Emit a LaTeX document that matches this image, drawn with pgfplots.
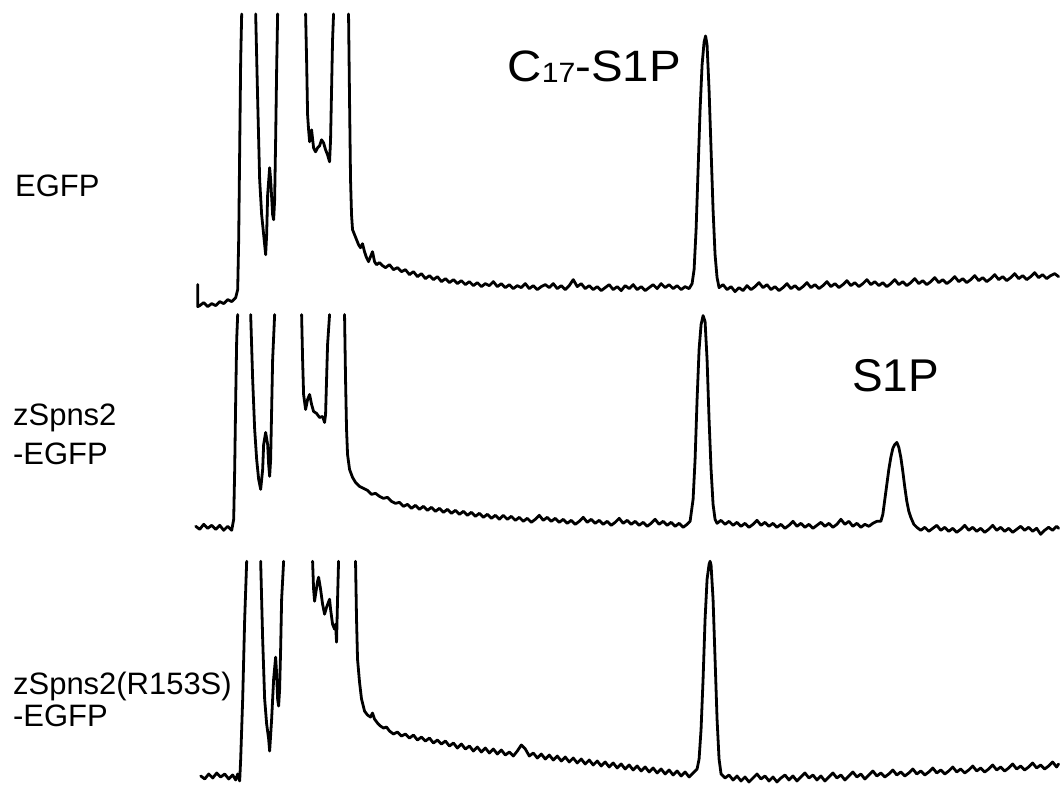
\documentclass[border=0pt]{standalone}
\usepackage{fontspec}
\setmainfont{Liberation Sans}
\usepackage{pgfplots}
\pgfplotsset{compat=1.18}
\newcommand{\lbl}{\fontsize{31}{31}\selectfont}
\pgfplotsset{trace/.style={black, line width=2.8pt, line join=round, line cap=round, mark=none}}

\begin{document}
\begin{tikzpicture}
\begin{axis}[
  width=1060pt, height=792pt, scale only axis, hide axis,
  xmin=0, xmax=1060, ymin=0, ymax=792, y dir=reverse, clip=false,
]
% bounding box
\addplot[draw=none] coordinates {(0,0) (1060,792)};

% ---- EGFP ----
\addplot[trace] coordinates {(198,285) (198,307) (200,306) (204,303) (208,307) (212,304) (216,306) (220,302) (224,304) (228,300) (232,302) (236,298) (238,290) (239,240) (240,150) (241,60) (242,14)};
\addplot[trace] coordinates {(256,14) (258,100) (260,180) (262,215) (264,235) (266,255) (267,235) (268,195) (270,168) (271,180) (273,215) (274,220) (275,200) (276,140) (277,70) (278,14)};
\addplot[trace] coordinates {(306,14) (307,60) (308,115) (309,130) (310,142) (311,135) (312,130) (314,148) (316,152) (318,148) (320,146) (322,140) (324,143) (326,150) (328,155) (330,162) (331,140) (332,90) (333,40) (334,14)};
\addplot[trace] coordinates {(349,14) (350,100) (351,180) (352,215) (353,230) (355,235) (357,240) (359,245) (361,248) (363,244) (365,252) (367,258) (369,262) (371,257) (373,252) (375,262) (377,265) (380,263) (383,266)
 (386,268) (390,265) (394,270) (398,268) (402,272) (406,270) (410,275) (414,272) (418,277) (422,274) (426,279) (430,276) (434,280) (438,277) (442,282) (446,279) (450,283) (454,280) (458,284) (462,281) (466,285) (470,282) (474,286) (478,283) (482,287) (486,284) (490,286) (494,282) (498,287) (502,284) (506,288) (510,285) (514,289) (518,286) (522,288) (526,284) (530,289) (534,286) (538,290) (542,287) (546,285) (550,288) (554,284) (558,289) (562,286) (566,290) (570,286) (574,280) (578,287) (582,284) (586,289) (590,286) (594,290) (598,287) (602,291) (606,288) (610,285) (614,290) (618,287) (622,291) (626,286) (630,289) (634,285) (638,290) (642,287) (646,291) (650,288) (654,285) (658,289) (662,284) (666,288) (670,285) (674,289) (678,286) (682,290) (686,287) (690,289) (693,284)
 (695,270) (697,230) (699,170) (701,110) (703,65) (705,42) (706.5,36) (708,45) (710,90) (712,150) (714,210) (716,255) (718,278) (720,288)
 (724,285) (728,290) (732,287) (736,292) (740,288) (744,291) (748,286) (752,290) (756,287) (760,283) (764,288) (768,285) (772,290) (776,287) (780,291) (784,288) (788,284) (792,289) (796,286) (800,290) (804,287) (808,283) (812,288) (816,285) (820,289) (824,286) (828,282) (832,287) (836,284) (840,288) (844,285) (848,281) (852,286) (856,283) (860,287) (864,284) (868,280) (872,285) (876,282) (880,286) (884,283) (888,287) (892,284) (896,280) (900,285) (904,282) (908,286) (912,283) (916,279) (920,284) (924,281) (928,285) (932,282) (936,278) (940,283) (944,280) (948,284) (952,281) (956,277) (960,282) (964,279) (968,283) (972,280) (976,276) (980,281) (984,278) (988,282) (992,279) (996,275) (1000,280) (1004,277) (1008,281) (1012,278) (1016,274) (1020,279) (1024,276) (1028,280) (1032,277) (1036,273) (1040,278) (1044,275) (1048,279) (1052,276) (1056,274) (1060,277)};

% ---- zSpns2-EGFP ----
\addplot[trace] coordinates {(196,527) (200,530) (204,525) (208,529) (212,526) (216,530) (220,526) (224,531) (228,527) (232,531) (234,520) (235,470) (236,400) (237,340) (238,315)};
\addplot[trace] coordinates {(251,315) (253,380) (255,430) (257,460) (259,480) (261,490) (263,470) (264,445) (266,433) (268,445) (269,465) (270,477) (271,460) (272,410) (273,360) (275,315)};
\addplot[trace] coordinates {(302,315) (303,360) (304,395) (306,410) (308,400) (310,395) (312,405) (314,412) (317,414) (320,418) (323,417) (325,423) (326,415) (327,380) (328,345) (330,315)};
\addplot[trace] coordinates {(345,315) (346,380) (347,430) (348,455) (350,470) (353,478) (356,483) (360,487) (364,489) (368,491) (372,495) (376,494) (380,497) (384,499) (388,498) (392,502) (396,504)
 (400,503) (404,507) (408,505) (412,509) (416,506) (420,510) (424,507) (428,511) (432,508) (436,512) (440,509) (444,513) (448,510) (452,514) (456,511) (460,515) (464,512) (468,516) (472,513) (476,517) (480,514) (484,518) (488,515) (492,519) (496,516) (500,520) (504,516) (508,520) (512,517) (516,521) (520,518) (524,522) (528,519) (532,523) (536,520) (540,516) (544,521) (548,518) (552,522) (556,519) (560,523) (564,520) (568,524) (572,521) (576,525) (580,522) (584,518) (588,523) (592,520) (596,524) (600,521) (604,525) (608,522) (612,526) (616,523) (620,519) (624,524) (628,521) (632,525) (636,522) (640,526) (644,523) (648,527) (652,524) (656,520) (660,525) (664,522) (668,526) (672,523) (676,527) (680,524) (684,528) (688,525) (691,522)
 (694,500) (696,460) (698,400) (700,350) (702,325) (704,316) (706,322) (708,360) (710,420) (712,470) (714,505) (716,520) (718,524)
 (722,521) (726,525) (730,522) (734,526) (738,523) (742,527) (746,524) (750,528) (754,525) (758,521) (762,526) (766,523) (770,527) (774,524) (778,528) (782,525) (786,529) (790,526) (794,522) (798,527) (802,524) (806,528) (810,525) (814,529) (818,526) (822,523) (826,527) (830,524) (834,528) (838,525) (842,520) (846,525) (850,522) (854,527) (858,524) (862,528) (866,525) (870,527) (874,524) (878,522) (882,522)
 (884,515) (886,500) (888,485) (890,470) (892,458) (894,449) (896,445) (898,443) (900,448) (902,458) (904,472) (906,488) (908,502) (910,512) (912,518) (915,525)
 (918,528) (922,531) (926,528) (930,532) (934,529) (938,526) (942,531) (946,528) (950,532) (954,529) (958,533) (962,530) (966,526) (970,531) (974,528) (978,532) (982,529) (986,533) (990,530) (994,526) (998,531) (1002,528) (1006,532) (1010,529) (1014,533) (1018,530) (1022,527) (1026,531) (1030,528) (1034,532) (1038,529) (1042,535) (1046,531) (1050,528) (1054,531) (1058,527) (1060,529)};

% ---- zSpns2(R153S)-EGFP ----
\addplot[trace] coordinates {(201,777) (205,780) (209,775) (213,779) (217,774) (221,778) (225,775) (229,780) (233,776) (236,781) (238,775) (240,782) (241,760) (243,700) (245,620) (247,562)};
\addplot[trace] coordinates {(261,562) (263,640) (265,700) (267,725) (269,740) (270,752) (272,720) (274,680) (276,658) (277,675) (278,700) (279,707) (280,690) (281,650) (282,600) (284,562)};
\addplot[trace] coordinates {(313,562) (314,590) (315,602) (316,595) (318,582) (319,578) (321,590) (323,605) (325,615) (327,608) (330,600) (331,610) (333,625) (335,630) (336,625) (337,643) (338,600) (339,562)};
\addplot[trace] coordinates {(356,562) (357,620) (358,660) (360,683) (362,700) (365,712) (368,716) (371,718) (373,714) (375,720) (378,724) (381,727) (384,729) (387,728) (390,732) (394,735) (398,733) (402,737)
 (406,735) (410,739) (414,736) (418,741) (422,738) (426,742) (430,739) (434,744) (438,741) (442,745) (446,742) (450,747) (454,744) (458,749) (462,745) (466,750) (470,747) (474,752) (478,748) (482,753) (486,749) (490,754) (494,750) (498,755) (502,751) (506,756) (510,753) (514,757) (518,752) (522,746) (526,750) (530,757) (534,754) (538,759) (542,755) (546,760) (550,756) (554,761) (558,757) (562,762) (566,758) (570,763) (574,759) (578,764) (582,760) (586,765) (590,761) (594,766) (598,762) (602,767) (606,763) (610,768) (614,764) (618,769) (622,765) (626,770) (630,766) (634,771) (638,767) (642,772) (646,768) (650,773) (654,769) (658,774) (662,770) (666,775) (670,771) (674,776) (678,772) (682,777) (686,773) (690,778) (694,774) (698,770)
 (700,760) (702,730) (704,680) (706,620) (708,580) (710,565) (711,562) (712,566) (714,600) (716,660) (718,720) (720,760) (722,775)
 (726,779) (730,776) (734,781) (738,777) (742,782) (746,778) (750,783) (754,779) (758,775) (762,780) (766,777) (770,782) (774,778) (778,783) (782,779) (786,776) (790,781) (794,777) (798,782) (802,778) (806,774) (810,779) (814,776) (818,781) (822,777) (826,782) (830,778) (834,774) (838,779) (842,776) (846,781) (850,777) (854,773) (858,778) (862,775) (866,780) (870,776) (874,772) (878,777) (882,774) (886,778) (890,775) (894,771) (898,776) (902,773) (906,777) (910,774) (914,770) (918,775) (922,772) (926,776) (930,773) (934,769) (938,774) (942,771) (946,775) (950,772) (954,768) (958,773) (962,770) (966,774) (970,771) (974,767) (978,772) (982,769) (986,773) (990,770) (994,766) (998,771) (1002,768) (1006,772) (1010,769) (1014,765) (1018,770) (1022,767) (1026,771) (1030,768) (1034,764) (1038,769) (1042,766) (1046,770) (1050,767) (1054,763) (1058,768) (1060,765)};

% ---- labels ----
\node[anchor=base west, font=\lbl, inner sep=0pt] at (axis cs:15,197) {EGFP};
\node[anchor=base west, font=\lbl, inner sep=0pt] at (axis cs:13,426) {zSpns2};
\node[anchor=base west, font=\lbl, inner sep=0pt] at (axis cs:13,465) {-EGFP};
\node[anchor=base west, font=\lbl, inner sep=0pt] at (axis cs:13,695) {zSpns2(R153S)};
\node[anchor=base west, font=\lbl, inner sep=0pt] at (axis cs:13,727) {-EGFP};
\node[anchor=base west, inner sep=0pt, xscale=1.08, font=\fontsize{44}{44}\selectfont] at (axis cs:508,82) {C{\fontsize{28}{28}\selectfont\raisebox{-1pt}{17}}-S1P};
\node[anchor=base west, inner sep=0pt, font=\fontsize{46}{46}\selectfont] at (axis cs:853,392) {S1P};
\end{axis}
\end{tikzpicture}
\end{document}
